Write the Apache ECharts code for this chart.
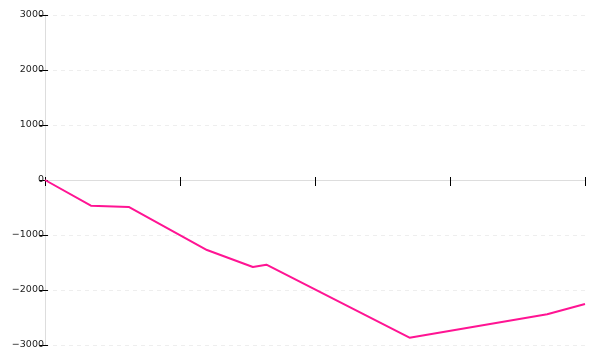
<!DOCTYPE html>
<html>
<head>
<meta charset="utf-8">
<script src="https://cdn.jsdelivr.net/npm/echarts@6/dist/echarts.min.js"></script>
<style>html,body{margin:0;padding:0;background:#fff}#c{width:600px;height:360px}</style>
</head>
<body>
<div id="c"></div>
<script>
var xValues = [0, 8.5, 15.5, 30, 38.5, 41, 67.5, 93, 100];
var yValues = [0, -467, -490, -1273, -1582, -1540, -2867, -2442, -2255];
var yTicks = [-3000, -2000, -1000, 0, 1000, 2000, 3000];

var chart = echarts.init(document.getElementById('c'), null, {renderer: 'canvas'});
var data = xValues.map(function (x, i) { return [x, yValues[i]]; });
chart.setOption({
  animation: false,
  grid: {left: 45, right: 15, top: 15, bottom: 15, containLabel: false},
  xAxis: [{
    type: 'value', min: 0, max: 100, interval: 25,
    axisLine: {show: true, onZero: true, lineStyle: {color: '#ddd', width: 1}},
    axisTick: {show: true, length: 6, inside: false, lineStyle: {color: '#000'}},
    axisLabel: {show: false},
    splitLine: {show: false}
  }, {
    type: 'value', min: 0, max: 100, interval: 25, position: 'bottom',
    axisLine: {show: false, onZero: true, onZeroAxisIndex: 0},
    axisTick: {show: true, length: 3, inside: true, lineStyle: {color: '#000'}},
    axisLabel: {show: false},
    splitLine: {show: false}
  }],
  yAxis: [{
    type: 'value', min: yTicks[0], max: yTicks[yTicks.length - 1], interval: 1000,
    axisLine: {show: true, lineStyle: {color: '#ddd', width: 1}},
    axisTick: {show: true, length: 6, lineStyle: {color: '#000'}},
    axisLabel: {
      color: '#222', fontFamily: 'DejaVu Sans', fontSize: 9.5, margin: 1,
      formatter: function (v) { return v < 0 ? '\u2212' + Math.abs(v) : String(v); }
    },
    splitLine: {show: true, lineStyle: {color: '#eee', type: [4, 4]}}
  }, {
    type: 'value', min: yTicks[0], max: yTicks[yTicks.length - 1], interval: 1000, position: 'left',
    axisLine: {show: false},
    axisTick: {show: true, length: 3, inside: true, lineStyle: {color: '#000'}},
    axisLabel: {show: false},
    splitLine: {show: false}
  }],
  series: [{
    type: 'line', data: data, showSymbol: false, symbol: 'none',
    lineStyle: {color: '#ff1493', width: 2},
    itemStyle: {color: '#ff1493'}
  }]
});
</script>
</body>
</html>
